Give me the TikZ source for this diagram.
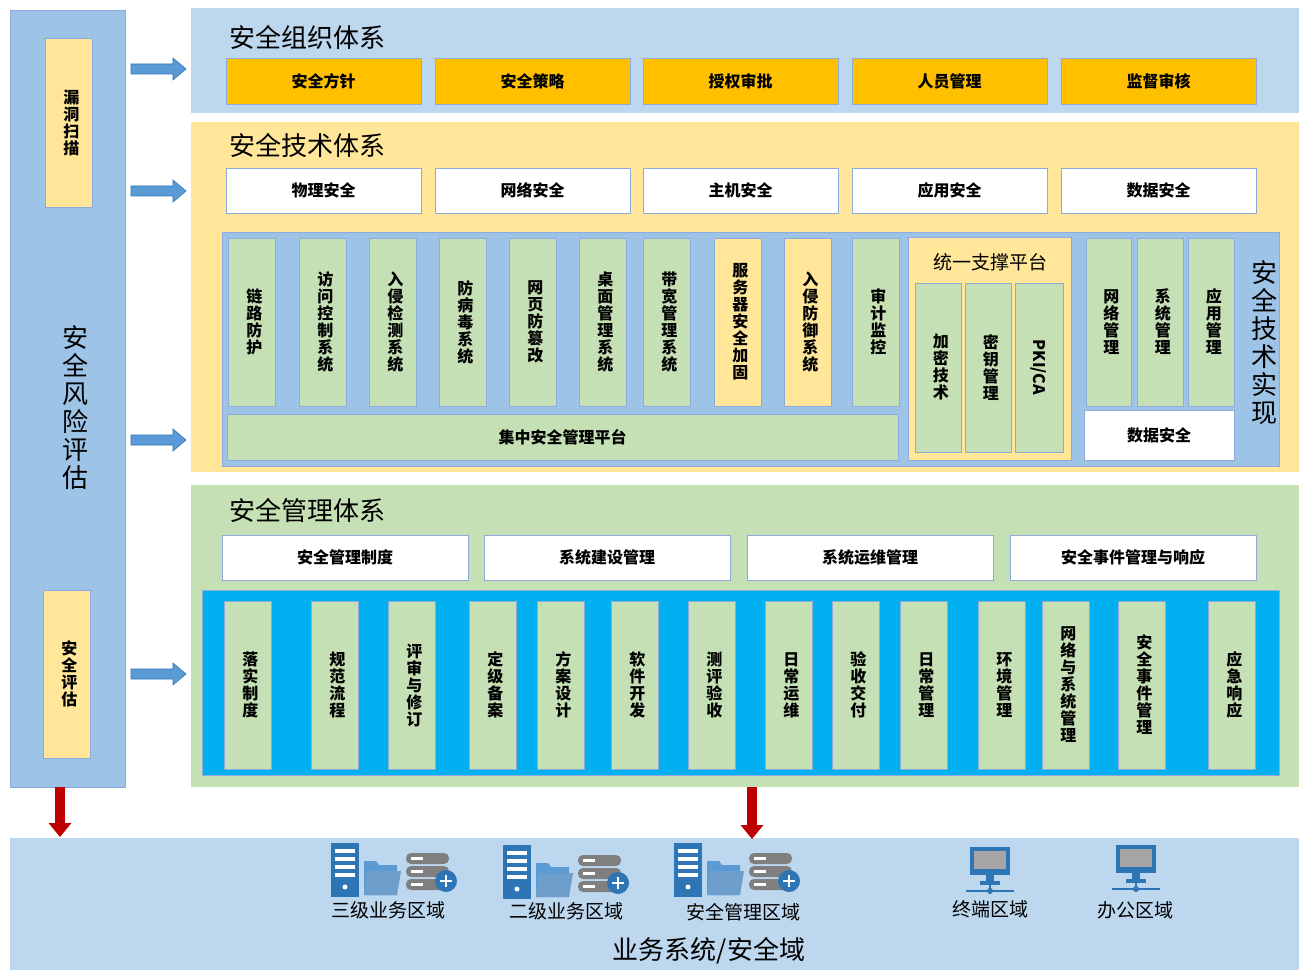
\documentclass[tikz,border=0pt]{standalone}
\usepackage{fontspec}
\setmainfont{Noto Sans CJK SC}
\XeTeXlinebreaklocale "zh"
\XeTeXlinebreakskip=0pt plus 1pt
\definecolor{lb}{HTML}{BDD7EE}
\definecolor{mb}{HTML}{9DC3E6}
\definecolor{bd}{HTML}{8FAADC}
\definecolor{org}{HTML}{FFC000}
\definecolor{yel}{HTML}{FFE699}
\definecolor{grn}{HTML}{C5E0B4}
\definecolor{cy}{HTML}{00B0F0}
\definecolor{arr}{HTML}{5B9BD5}
\definecolor{ic}{HTML}{2E75B6}
\definecolor{gr}{HTML}{7F7F7F}
\newcommand\bx[7]{\node[#6,anchor=north west,minimum width=#4pt,minimum height=#5pt,inner sep=0pt,outer sep=0pt] (#1) at (#2,#3) {#7};}
\newcommand\blk[2]{\fill[arr,draw=ic,line width=0.6pt] (#1,#2-5) -- (#1+42,#2-5) -- (#1+42,#2-11) -- (#1+55,#2) -- (#1+42,#2+11) -- (#1+42,#2+5) -- (#1,#2+5) -- cycle;}
\newcommand\grp[2]{%
 \begin{scope}[shift={(#1,#2)}]
 \fill[ic] (0,0) rectangle (28,54);
 \foreach \k in {6,14,22,30}{\fill[white] (4,\k) rectangle (24,\k+4);}
 \fill[white] (14,44) circle (2.5);
 \fill[arr] (33,18) -- (45,18) -- (48,22) -- (66,22) -- (66,52) -- (33,52) -- cycle;
 \fill[ic!70] (36,28) -- (70,28) -- (66,52) -- (33,52) -- cycle;
 \foreach \k in {10,23,36}{\fill[gr,rounded corners=5pt] (75,\k) rectangle (118,\k+11);
   \fill[white] (80,\k+4) rectangle (92,\k+7);}
 \fill[ic] (115,38) circle (11);
 \draw[white,line width=2.5pt] (109,38) -- (121,38) (115,32) -- (115,44);
 \end{scope}}
\newcommand\term[2]{%
 \begin{scope}[shift={(#1,#2)}]
 \fill[ic] (0,0) rectangle (40,28);
 \fill[gr!70] (4,4) rectangle (36,22);
 \fill[ic] (16,28) rectangle (24,34);
 \fill[ic] (10,34) rectangle (30,38);
 \draw[ic,line width=2pt] (20,38) -- (20,44) (-4,44) -- (44,44);
 \fill[ic] (20,44) circle (3);
 \end{scope}}
\tikzset{
 vt/.style={text width=1.05em,align=center,font=\bfseries\fontsize{16}{17}\selectfont},
 col/.style={fill=grn,draw=bd,line width=0.8pt},
 ycol/.style={fill=yel,draw=bd,line width=0.8pt},
 lbl/.style={font=\bfseries\fontsize{16}{18}\selectfont},
 wbox/.style={fill=white,draw=bd,line width=0.8pt,lbl},
 obox/.style={fill=org,draw=bd,line width=0.8pt,lbl},
 ttl/.style={font=\fontsize{26}{28}\selectfont,anchor=west},
 dn/.style={-{Triangle[length=14pt,width=22pt]},line width=10pt,draw=red!75!black}
}
\usetikzlibrary{arrows.meta}
\begin{document}
\begin{tikzpicture}[x=1pt,y=-1pt]
\useasboundingbox (0,0) rectangle (1309,976);
\fill[white] (0,0) rectangle (1309,976);
% left column
\bx{lc}{10}{10}{115}{777}{fill=mb,draw=bd,line width=0.8pt}{}
\bx{ld}{45}{38}{47}{169}{ycol,vt}{漏洞扫描}
\bx{as}{43}{590}{47}{168}{ycol,vt}{安全评估}
\node[text width=1em,align=center,font=\fontsize{26}{28}\selectfont] (risk) at (67,408) {安全风险评估};
% arrows
\blk{131}{69}\blk{131}{191}\blk{131}{440}\blk{131}{674}
% org
\bx{org}{191}{8}{1108}{105}{fill=lb}{}
\node[ttl] (t1) at (226,37) {安全组织体系};
\foreach \x/\t [count=\i] in {226/安全方针,435/安全策略,643/授权审批,852/人员管理,1061/监督审核}
  {\bx{o\i}{\x}{58}{195}{46}{obox}{\t}}
% tech
\bx{tech}{191}{122}{1108}{350}{fill=yel}{}
\node[ttl] (t2) at (226,145) {安全技术体系};
\foreach \x/\t [count=\i] in {226/物理安全,435/网络安全,643/主机安全,852/应用安全,1061/数据安全}
  {\bx{w\i}{\x}{168}{195}{45}{wbox}{\t}}
\bx{tp}{222}{232}{1057}{234}{fill=mb,draw=bd,line width=0.8pt}{}
\foreach \x/\t/\s [count=\i] in {228/链路防护/col,299/访问控制系统/col,369/入侵检测系统/col,439/防病毒系统/col,509/网页防篡改/col,579/桌面管理系统/col,643/带宽管理系统/col,714/服务器安全加固/ycol,784/入侵防御系统/ycol,852/审计监控/col}
  {\bx{c\i}{\x}{238}{47}{168}{\s,vt}{\t}}
\bx{jz}{227}{414}{671}{46}{col,lbl}{集中安全管理平台}
\bx{ty}{908}{237}{163}{223}{fill=yel,draw=bd,line width=0.8pt}{}
\node[font=\fontsize{19}{22}\selectfont] (tyt) at (990,262) {统一支撑平台};
\bx{jm}{915}{283}{46}{169}{col,vt}{加密技术}
\bx{my}{965}{283}{46}{169}{col,vt}{密钥管理}
\bx{pk}{1015}{283}{48}{169}{col}{}
\node[rotate=-90,font=\bfseries\fontsize{16}{18}\selectfont] (pkt) at (pk) {PKI/CA};
\bx{r1}{1086}{238}{45}{168}{col,vt}{网络管理}
\bx{r2}{1137}{238}{46}{168}{col,vt}{系统管理}
\bx{r3}{1188}{238}{46}{168}{col,vt}{应用管理}
\bx{ds}{1084}{410}{150}{50}{wbox}{数据安全}
\node[text width=1em,align=center,font=\fontsize{26}{28}\selectfont] (tr) at (1256,343) {安全技术实现};
% mgmt
\bx{mg}{191}{485}{1108}{302}{fill=grn}{}
\node[ttl] (t3) at (226,510) {安全管理体系};
\foreach \x/\t [count=\i] in {222/安全管理制度,484/系统建设管理,747/系统运维管理,1010/安全事件管理与响应}
  {\bx{m\i}{\x}{535}{246}{45}{wbox}{\t}}
\bx{mp}{202}{590}{1077}{185}{fill=cy,draw=bd,line width=0.8pt}{}
\foreach \x/\t [count=\i] in {224/落实制度,311/规范流程,388/评审与修订,469/定级备案,537/方案设计,611/软件开发,688/测评验收,765/日常运维,832/验收交付,900/日常管理,978/环境管理,1042/网络与系统管理,1118/安全事件管理,1208/应急响应}
  {\bx{k\i}{\x}{601}{47}{168}{col,vt}{\t}}
% bottom
\bx{bt}{10}{838}{1289}{132}{fill=lb}{}
\coordinate (a1) at (60,787); \coordinate (b1) at (60,837);
\coordinate (a2) at (752,787); \coordinate (b2) at (752,839);
\draw[dn] (a1) -- (b1); \draw[dn] (a2) -- (b2);
\grp{331}{843}\grp{503}{845}\grp{674}{843}
\term{970}{847}\term{1116}{845}
\node[font=\fontsize{19}{22}\selectfont] (z1) at (388,910) {三级业务区域};
\node[font=\fontsize{19}{22}\selectfont] (z2) at (566,911) {二级业务区域};
\node[font=\fontsize{19}{22}\selectfont] (z3) at (743,912) {安全管理区域};
\node[font=\fontsize{19}{22}\selectfont] (z4) at (990,909) {终端区域};
\node[font=\fontsize{19}{22}\selectfont] (z5) at (1135,910) {办公区域};
\node[font=\fontsize{26}{28}\selectfont] (z6) at (709,951) {业务系统/安全域};
\end{tikzpicture}
\end{document}
